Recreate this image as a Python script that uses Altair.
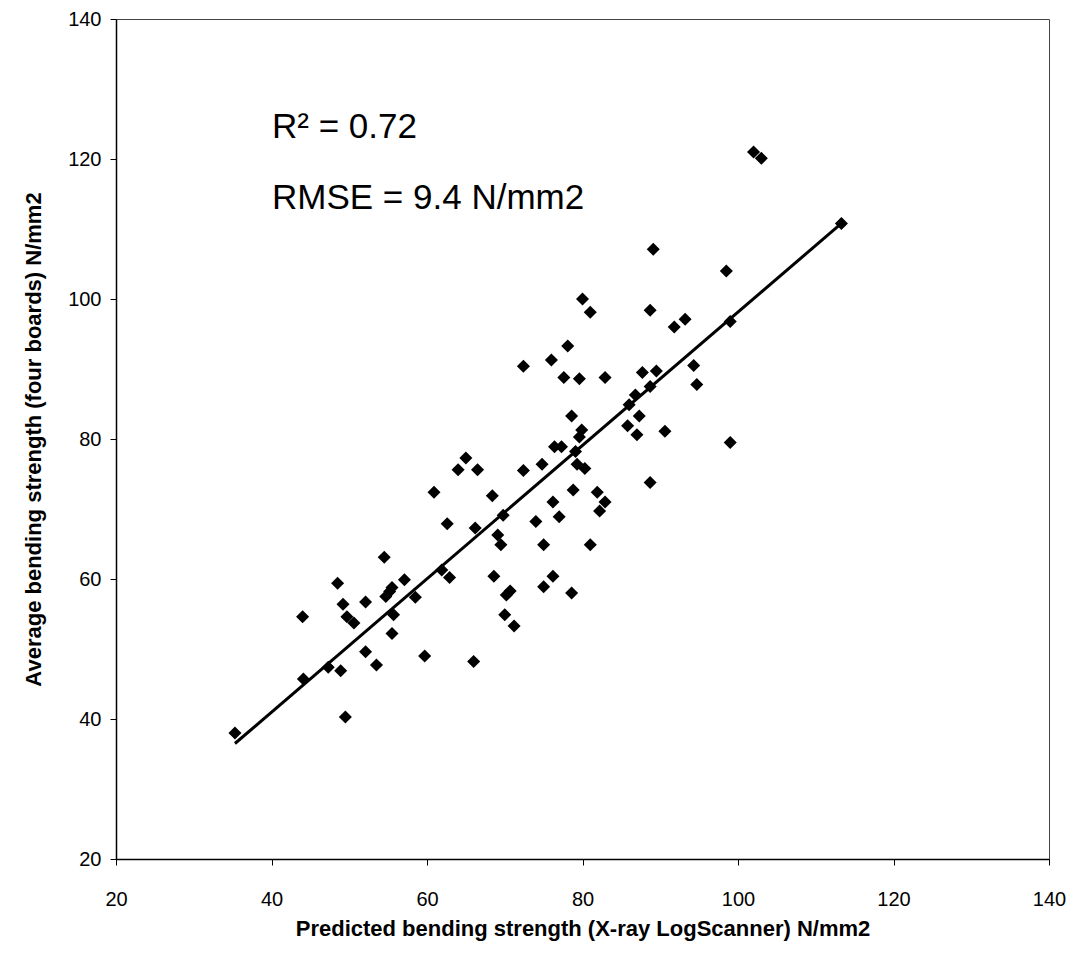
import altair as alt
import pandas as pd

# Predicted bending strength (X-ray LogScanner), N/mm2
pred = [
    35.3, 44.1, 47.3, 48.9, 49.5, 44.0, 48.5, 49.2, 49.7, 50.6, 52.1, 52.1, 53.5, 54.5, 54.7,
    55.2, 55.5, 55.7, 55.5, 57.1, 58.5,
    64.0, 66.5, 72.4, 74.8, 79.3, 80.3, 60.9, 68.4, 78.8, 81.9, 82.9, 82.2, 76.2, 77.0, 74.0,
    69.8, 62.6, 66.2, 69.1, 69.5, 75.0, 81.0, 61.9, 62.9, 68.6, 76.2, 75.0, 78.6, 70.7, 70.2,
    70.0, 71.2, 59.7, 66.0,
    80.0, 81.0, 78.1, 76.0, 72.4, 77.6, 79.6, 82.9, 78.6, 79.9, 79.6, 76.4, 77.3, 79.1, 65.0,
    89.1, 98.5, 88.7, 91.8, 93.2, 99.0, 87.7, 89.5, 94.3, 94.7, 88.7, 86.8, 86.0, 87.3, 85.8,
    87.0, 90.6, 99.0, 88.7, 102.0, 103.0, 113.3,
]
# Average bending strength (four boards), N/mm2
avg = [
    38.0, 45.7, 47.4, 46.9, 40.3, 54.6, 59.4, 56.4, 54.6, 53.7, 56.7, 49.6, 47.7, 63.1, 57.5,
    58.2, 58.8, 54.9, 52.2, 59.9, 57.4,
    75.6, 75.6, 75.5, 76.4, 76.4, 75.8, 72.4, 71.9, 72.7, 72.4, 71.0, 69.7, 71.0, 68.9, 68.2,
    69.1, 67.9, 67.3, 66.3, 64.9, 64.9, 64.9, 61.3, 60.2, 60.4, 60.4, 58.9, 58.0, 58.3, 57.7,
    54.9, 53.3, 49.0, 48.2,
    100.0, 98.1, 93.3, 91.3, 90.4, 88.8, 88.6, 88.8, 83.3, 81.3, 80.3, 78.9, 78.9, 78.2, 77.3,
    107.1, 104.0, 98.4, 96.0, 97.1, 96.8, 89.5, 89.7, 90.5, 87.8, 87.5, 86.3, 84.9, 83.3, 81.9,
    80.6, 81.1, 79.5, 73.8, 121.0, 120.1, 110.8,
]
# Fitted regression line end points
fit_x = [35.3, 113.3]
fit_y = [36.5, 110.8]

ticks = [20, 40, 60, 80, 100, 120, 140]
ann_r2 = "R\u00b2 = 0.72"
ann_rmse = "RMSE = 9.4 N/mm2"

pts = pd.DataFrame({"pred": pred, "avg": avg})
fit = pd.DataFrame({"pred": fit_x, "avg": fit_y})

FONT = "Liberation Sans"

xscale = alt.Scale(domain=[20, 140], nice=False, zero=False)
yscale = alt.Scale(domain=[20, 140], nice=False, zero=False)

xaxis = alt.Axis(
    title="Predicted bending strength (X-ray LogScanner) N/mm2",
    values=ticks, grid=False, tickSize=6, labelPadding=24, labelFlush=False,
    titlePadding=9, domainColor="#000", tickColor="#000", domainWidth=1.5,
)
yaxis = alt.Axis(
    title="Average bending strength (four boards) N/mm2",
    values=ticks, grid=False, tickSize=6, labelPadding=9, labelFlush=False,
    titlePadding=22, domainColor="#000", tickColor="#000", domainWidth=1.5,
)

points = alt.Chart(pts).mark_point(
    shape="diamond", filled=True, color="#000", size=170, opacity=1
).encode(
    x=alt.X("pred:Q", scale=xscale, axis=xaxis),
    y=alt.Y("avg:Q", scale=yscale, axis=yaxis),
)

line = alt.Chart(fit).mark_line(color="#000", strokeWidth=3).encode(
    x=alt.X("pred:Q", scale=xscale, axis=xaxis),
    y=alt.Y("avg:Q", scale=yscale, axis=yaxis),
)

text_r2 = alt.Chart(pd.DataFrame({"label": [ann_r2]})).mark_text(
    align="left", baseline="alphabetic", fontSize=35, font=FONT, color="#000"
).encode(x=alt.value(156), y=alt.value(119), text="label:N")

text_rmse = alt.Chart(pd.DataFrame({"label": [ann_rmse]})).mark_text(
    align="left", baseline="alphabetic", fontSize=35, font=FONT, color="#000"
).encode(x=alt.value(156), y=alt.value(190), text="label:N")

chart = alt.layer(points, line, text_r2, text_rmse).properties(
    width=933, height=840,
    autosize=alt.AutoSizeParams(type="none"),
    padding={"left": 108, "top": 11, "right": 20, "bottom": 86},
).configure_view(
    stroke="#444", strokeWidth=1
).configure_axis(
    labelFont=FONT, titleFont=FONT, labelFontSize=20, titleFontSize=22,
    labelColor="#000", titleColor="#000", titleFontWeight="bold",
)

chart.save("out.html", embed_options={"renderer": "svg", "actions": False})
